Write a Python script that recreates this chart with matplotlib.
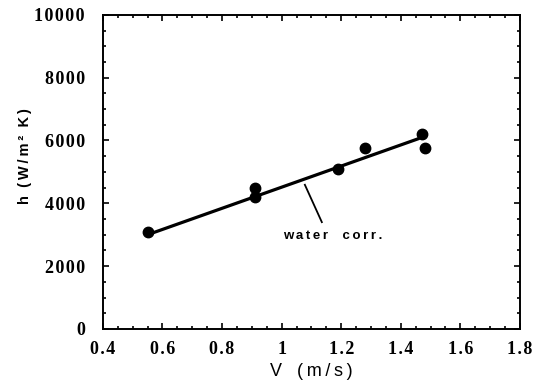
import matplotlib
matplotlib.use("Agg")
import matplotlib.pyplot as plt
from matplotlib.ticker import MultipleLocator

# measured points
v_data = [0.55, 0.91, 0.91, 1.19, 1.28, 1.47, 1.48]
h_data = [3080, 4500, 4200, 5080, 5760, 6220, 5770]

# water correlation line
v_corr = [0.55, 1.46]
h_corr = [3000, 6060]

# pointer from label to line
v_ptr = [1.078, 1.135]
h_ptr = [4590, 3400]

x_ticks = [0.4, 0.6, 0.8, 1.0, 1.2, 1.4, 1.6, 1.8]
x_labels = ["0.4", "0.6", "0.8", "1", "1.2", "1.4", "1.6", "1.8"]
y_ticks = [0, 2000, 4000, 6000, 8000, 10000]
y_labels = ["0", "2000", "4000", "6000", "8000", "10000"]

THIN = "\u2009"
HAIR = "\u200a"


def spaced(s, sep=THIN):
    # the scanned figure has wide letter spacing
    return sep.join(s)


fig = plt.figure(figsize=(5.36, 3.82), dpi=100)
ax = fig.add_axes([0.192, 0.139, 0.778, 0.822])

ax.plot(v_corr, h_corr, color="black", linewidth=2.3, solid_capstyle="round")
ax.plot(v_data, h_data, "o", color="black", markersize=7.5)
ax.plot(v_ptr, h_ptr, color="black", linewidth=1.3)
ax.text(1.17, 2960, spaced("water") + "    " + spaced("corr."), ha="center",
        va="center", fontsize=9.5, fontweight="bold",
        family=["Liberation Sans", "DejaVu Sans"])

ax.set_xlim(0.4, 1.8)
ax.set_ylim(0, 10000)
ax.set_xticks(x_ticks)
ax.set_xticklabels([spaced(s, HAIR) for s in x_labels])
ax.set_yticks(y_ticks)
ax.set_yticklabels([spaced(s, HAIR) for s in y_labels])
ax.xaxis.set_minor_locator(MultipleLocator(0.05))
ax.yaxis.set_minor_locator(MultipleLocator(500))

ax.tick_params(which="both", direction="in", top=True, right=True, width=1.2)
ax.tick_params(which="major", length=4.5)
ax.tick_params(which="minor", length=2.5)
ax.tick_params(axis="x", pad=9)
ax.tick_params(axis="y", pad=13)
for lab in ax.get_xticklabels() + ax.get_yticklabels():
    lab.set_family(["Liberation Serif", "DejaVu Serif"])
    lab.set_fontweight("bold")
    lab.set_fontsize(13)
for sp in ax.spines.values():
    sp.set_linewidth(1.4)

ax.set_xlabel(THIN.join("V") + "   " + spaced("(m/s)"), fontsize=13,
              family=["Liberation Sans", "DejaVu Sans"], labelpad=3)
ax.set_ylabel("h  " + spaced("(W/m²") + "  " + spaced("K)"), fontsize=10.5,
              fontweight="bold", family=["Liberation Sans", "DejaVu Sans"])
ax.yaxis.set_label_coords(-0.17, 0.55)

fig.savefig("out.png", dpi=100)
